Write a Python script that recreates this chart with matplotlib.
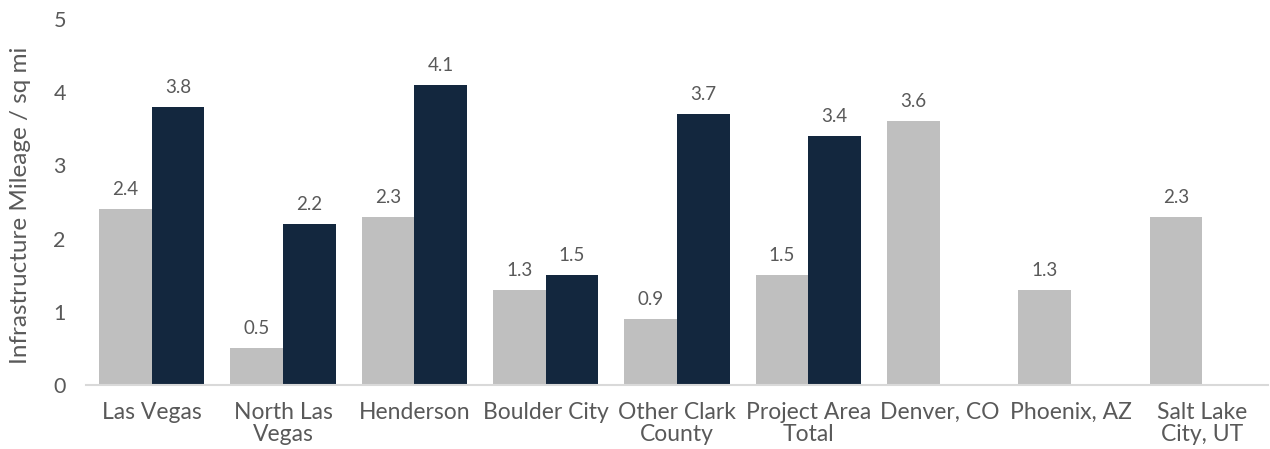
import matplotlib.pyplot as plt
import numpy as np

# infrastructure mileage per square mile by area
areas = ["Las Vegas", "North Las\nVegas", "Henderson", "Boulder City",
         "Other Clark\nCounty", "Project Area\nTotal", "Denver, CO",
         "Phoenix, AZ", "Salt Lake\nCity, UT"]
grey_vals = [2.4, 0.5, 2.3, 1.3, 0.9, 1.5, 3.6, 1.3, 2.3]
navy_vals = [3.8, 2.2, 4.1, 1.5, 3.7, 3.4, None, None, None]
y_ticks = [0, 1, 2, 3, 4, 5]

GREY = "#BFBFBF"
NAVY = "#13273E"
TEXT = "#595959"

plt.rcParams["font.family"] = ["Lato", "DejaVu Sans"]

fig = plt.figure(figsize=(12.7, 4.49), dpi=100)
ax = fig.add_axes([86 / 1270, 1 - 385 / 449, 1182 / 1270, 366 / 449])

x = np.arange(len(areas))
w = 0.4

def label_bars(bars, vals):
    for b, v in zip(bars, vals):
        ax.annotate(f"{v:.1f}", (b.get_x() + b.get_width() / 2, v),
                    xytext=(0, 8), textcoords="offset points",
                    ha="center", va="bottom", fontsize=13.5, color=TEXT)

g = ax.bar(x - w / 2, grey_vals, w, color=GREY, zorder=2)
label_bars(g, grey_vals)

nx = [i for i, v in zip(x, navy_vals) if v is not None]
nv = [v for v in navy_vals if v is not None]
n = ax.bar(np.array(nx) + w / 2, nv, w, color=NAVY, zorder=2)
label_bars(n, nv)

ax.set_xlim(-0.5, len(areas) - 0.5)
ax.set_ylim(0, 5)
ax.set_yticks(y_ticks)
ax.set_xticks(x)
ax.set_xticklabels(areas, fontsize=16.5, color=TEXT, linespacing=1.05)
ax.tick_params(axis="y", labelsize=15.5, labelcolor=TEXT, length=0, pad=19)
ax.tick_params(axis="x", length=0, pad=12)
for lbl in ax.get_yticklabels():
    lbl.set_horizontalalignment("center")

for s in ["top", "right", "left"]:
    ax.spines[s].set_visible(False)
ax.spines["bottom"].set_color("#D9D9D9")
ax.spines["bottom"].set_linewidth(1.5)
ax.spines["bottom"].set_zorder(3)

ax.set_ylabel("Infrastructure Mileage / sq mi", fontsize=17.5, color=TEXT)
ax.yaxis.set_label_coords(-55 / 1182, 0.49)

fig.savefig("out.png", dpi=100)
